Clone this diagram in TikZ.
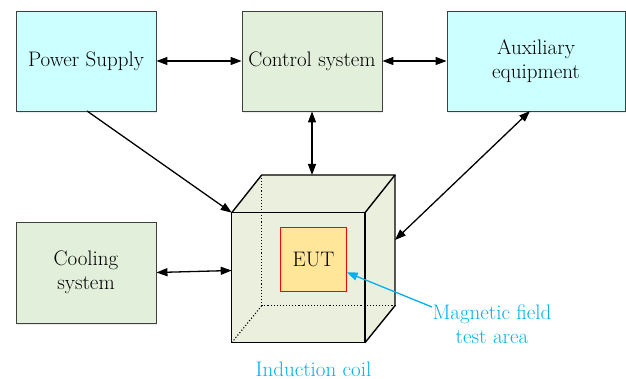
\documentclass[tikz,border=0pt]{standalone}
\usetikzlibrary{arrows.meta,shadows}
\definecolor{cyanfill}{RGB}{204,255,255}
\definecolor{greenfill}{RGB}{226,239,218}
\definecolor{cubefill}{RGB}{235,240,222}
\definecolor{eutfill}{RGB}{255,230,153}
\definecolor{bluetext}{RGB}{0,176,240}
\definecolor{boxline}{RGB}{64,64,64}
\begin{document}
\begin{tikzpicture}[x=1pt,y=-1pt,
  font=\rmfamily\fontsize{21}{24.5}\selectfont,
  box/.style={draw=boxline,line width=0.9pt,minimum height=100pt,inner sep=0pt,align=center,
    drop shadow={opacity=0.15,shadow xshift=1pt,shadow yshift=-2pt}},
  cyanbox/.style={box,fill=cyanfill},
  greenbox/.style={box,fill=greenfill},
  link/.style={line width=1.3pt,black},
  both/.style={link,{Triangle[length=11pt,width=8pt]}-{Triangle[length=11pt,width=8pt]}},
  tohead/.style={link,-{Triangle[length=11pt,width=8pt]}},
  hidden/.style={line width=1.1pt,dotted,black},
  edge/.style={line width=1.4pt,black}]
\useasboundingbox (0,0) rectangle (626,379);

% boxes
\node[cyanbox,minimum width=140pt] (ps) at (86,61) {Power Supply};
\node[greenbox,minimum width=140pt] (cs) at (312,61) {Control system};
\node[cyanbox,minimum width=178pt] (aux) at (536,61) {Auxiliary\\equipment};
\node[greenbox,minimum width=140pt,minimum height=101pt] (cool) at (86,272.5) {Cooling\\system};

% cube corners
\coordinate (ftl) at (231.7,212.7);
\coordinate (ftr) at (365,212.7);
\coordinate (fbr) at (365,342.7);
\coordinate (fbl) at (231.7,342.7);
\coordinate (btl) at (261.7,175);
\coordinate (btr) at (395,175);
\coordinate (bbr) at (395,305.7);
\coordinate (bbl) at (261.7,305.7);

% cube fill
\fill[cubefill] (ftl) -- (btl) -- (btr) -- (bbr) -- (fbr) -- (fbl) -- cycle;
% hidden edges
\draw[hidden] (btl) -- (bbl) -- (bbr);
\draw[hidden] (bbl) -- (fbl);
% visible edges
\node[draw=black,line width=1.4pt,minimum width=133.3pt,minimum height=130pt,inner sep=0pt] (coil) at (298.35,277.7) {};
\draw[edge,line join=round] (ftl) -- (btl) -- (btr) -- (ftr);
\draw[edge,line join=round] (btr) -- (bbr) -- (fbr);

% EUT
\node[draw=red,line width=0.9pt,fill=eutfill,minimum width=66.4pt,minimum height=64.4pt,inner sep=0pt] (eut) at (313.5,259.5) {EUT};

% labels
\node[text=bluetext,inner sep=0pt,anchor=base] (coillabel) at (313.5,376) {Induction coil};
\node[text=bluetext,align=center] (mf) at (492,324) {Magnetic field\\test area};

% connectors
\coordinate (csdown) at (cs.south |- btl);
\coordinate (auxstart) at (530,111);
\coordinate (auxend) at (395,240);
\coordinate (psstart) at (87,111);
\coordinate (coolend) at (231.7,270.5);
\coordinate (mfstart) at (432,307);
\coordinate (eutend) at (346.7,272.3);

\draw[both] (ps.east) -- (cs.west);
\draw[both] (cs.east) -- (aux.west);
\draw[both] (cs.south) -- (csdown);
\draw[tohead] (psstart) -- (ftl);
\draw[both] (auxstart) -- (auxend);
\draw[both] (cool.east) -- (coolend);
\draw[line width=1.3pt,bluetext,-{Triangle[length=11pt,width=8pt]}] (mfstart) -- (eutend);
\end{tikzpicture}
\end{document}
